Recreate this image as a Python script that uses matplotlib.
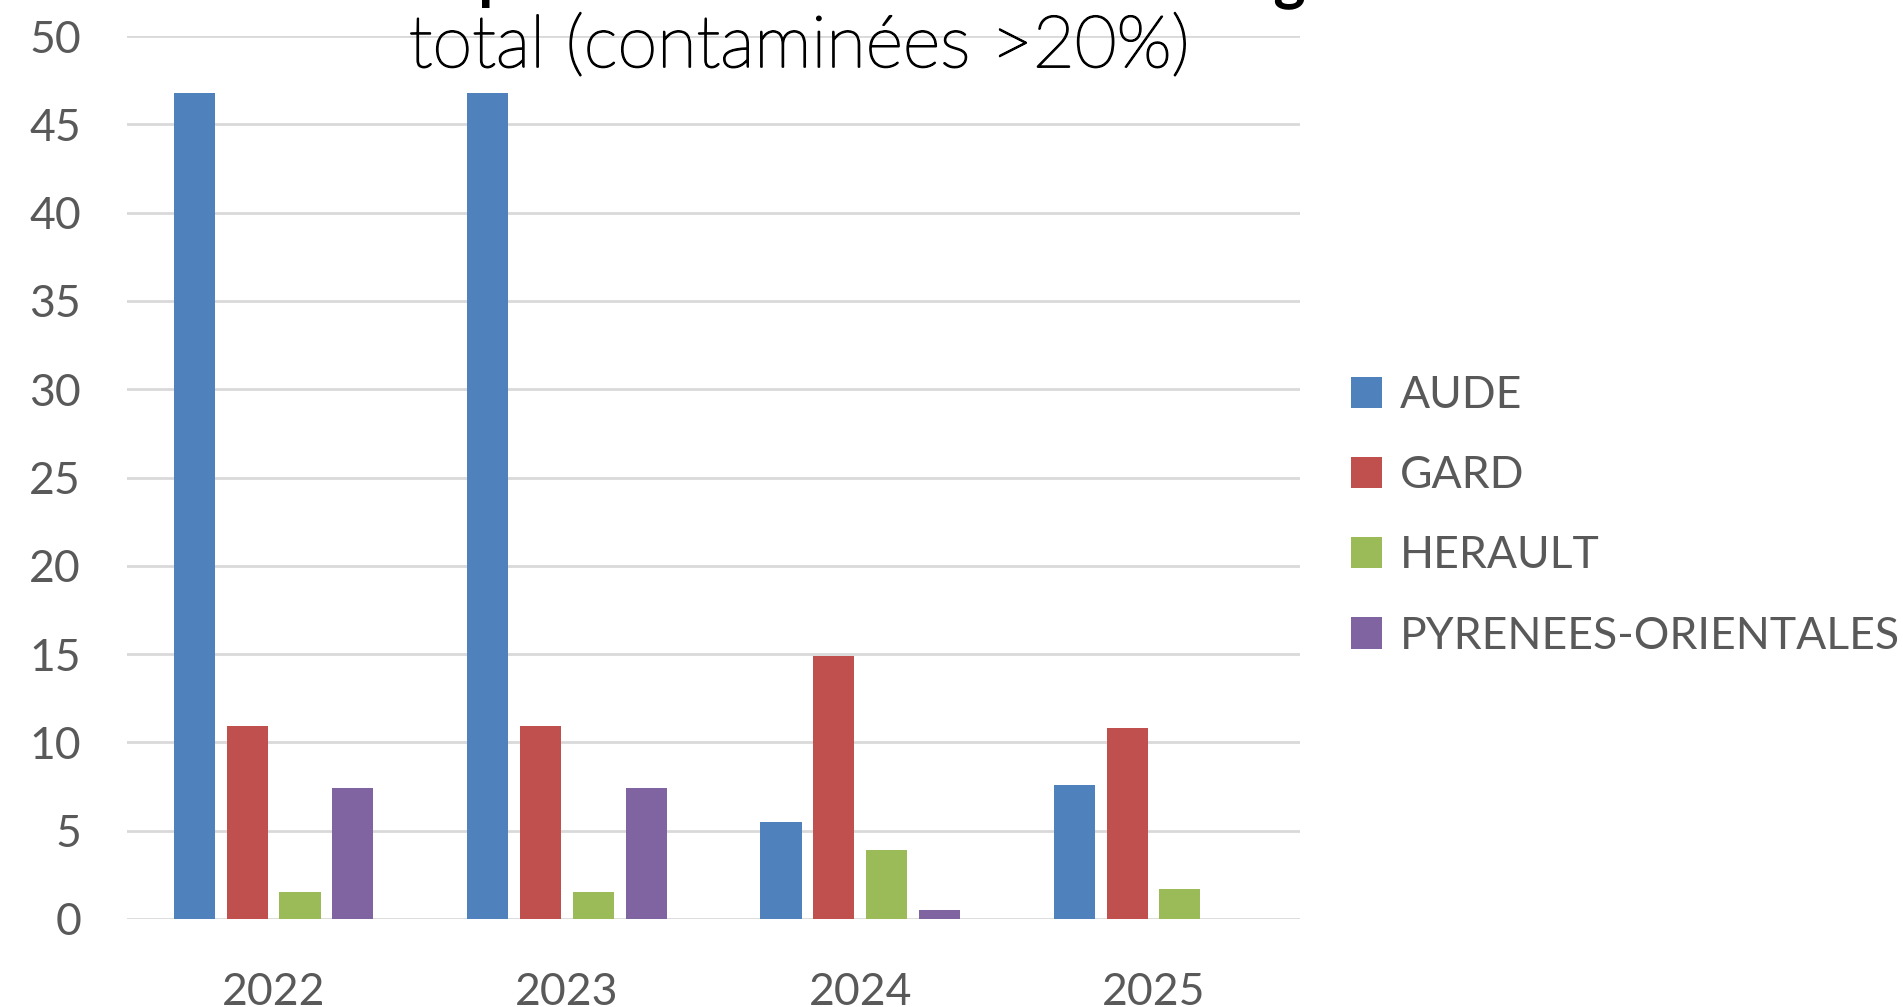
import matplotlib
matplotlib.use("Agg")
import matplotlib.pyplot as plt
import matplotlib.patheffects as pe
import numpy as np

plt.rcParams['font.family'] = ['Lato', 'DejaVu Sans']

years = ['2022', '2023', '2024', '2025']
departements = ['AUDE', 'GARD', 'HERAULT', 'PYRENEES-ORIENTALES']
aude = [46.8, 46.8, 5.5, 7.6]
gard = [10.95, 10.95, 14.9, 10.8]
herault = [1.55, 1.55, 3.9, 1.7]
pyrenees = [7.4, 7.4, 0.5, 0.0]
colors = ['#4F81BD', '#C0504D', '#9BBB59', '#8064A2']

series = [aude, gard, herault, pyrenees]

fig = plt.figure(figsize=(19.03, 10.07), dpi=100)
ax = fig.add_axes([0.0667, 0.0874, 0.6165, 0.8768])

x = np.arange(len(years))
step = 0.18
width = 0.14
for i, (vals, name, c) in enumerate(zip(series, departements, colors)):
    ax.bar(x + (i - 1.5) * step, vals, width=width, color=c, label=name, zorder=3)

ax.set_xlim(-0.5, len(years) - 0.5)
ax.set_ylim(0, 50)
ax.set_yticks(range(0, 51, 5))
ax.set_xticks(x)
ax.set_xticklabels(years)
ax.grid(axis='y', color='#D9D9D9', linewidth=2, zorder=0)
for s in ax.spines.values():
    s.set_visible(False)
ax.tick_params(axis='both', length=0, labelsize=32, labelcolor='#595959')
ax.tick_params(axis='y', pad=33)
ax.tick_params(axis='x', pad=38)

# titre (premiere ligne coupee en haut de l'image)
fig.text(0.5755, 1.003, "% de parcelles contaminées en Languedoc sur le nombre",
         ha='center', va='baseline', fontsize=44, fontweight='bold', color='black')
fig.text(0.42, 0.9335, "total (contaminées >20%)", ha='center', va='baseline',
         fontsize=52, fontweight='light', color='black',
         path_effects=[pe.withStroke(linewidth=1.3, foreground='black')])

leg = fig.legend(loc='upper left', bbox_to_anchor=(0.7005, 0.645), frameon=False,
                 fontsize=32, labelcolor='#595959', handlelength=0.7, handleheight=0.7,
                 handletextpad=0.4, labelspacing=0.88, borderaxespad=0)

fig.savefig('out.png', dpi=100)
